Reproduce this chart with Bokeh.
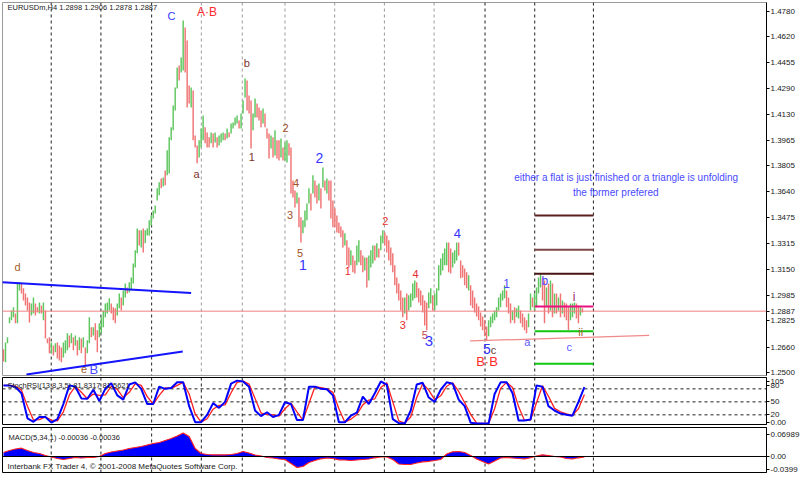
from bokeh.plotting import figure
from bokeh.layouts import column
from bokeh.models import (Range1d, FixedTicker, Span, Label, ColumnDataSource,
                          NumeralTickFormatter, CustomJSTickFormatter)
from bokeh.core.properties import value
from bokeh.embed import file_html
from bokeh.resources import INLINE

FONT = "Liberation Sans"

# ---------------- data ----------------
chart_title = "EURUSDm,H4  1.2898 1.2906 1.2878 1.2887"
bid_price = 1.2887

bar_high = [
    1.2646, 1.2690, 1.2722, 1.2848, 1.2892, 1.2911, 1.2873, 1.3069, 1.3069, 1.3062,
    1.3031, 1.2999, 1.2974, 1.2942, 1.2936, 1.2974, 1.2936, 1.2911, 1.2942, 1.2923,
    1.2942, 1.2892, 1.2715, 1.2722, 1.2690, 1.2671, 1.2684, 1.2690, 1.2671, 1.2658,
    1.2690, 1.2703, 1.2747, 1.2734, 1.2747, 1.2722, 1.2734, 1.2703, 1.2722, 1.2715,
    1.2722, 1.2658, 1.2703, 1.2848, 1.2785, 1.2785, 1.2810, 1.2766, 1.2810, 1.2848,
    1.2892, 1.2936, 1.2942, 1.2968, 1.2936, 1.2911, 1.2905, 1.2936, 1.2999, 1.2974,
    1.3018, 1.3062, 1.3037, 1.3069, 1.3100, 1.3188, 1.3271, 1.3409, 1.3397, 1.3397,
    1.3409, 1.3397, 1.3409, 1.3460, 1.3491, 1.3523, 1.3554, 1.3662, 1.3700, 1.3725,
    1.3731, 1.3775, 1.3902, 1.3984, 1.4047, 1.4185, 1.4299, 1.4425, 1.4437, 1.4488,
    1.4722, 1.4678, 1.4595, 1.4311, 1.4299, 1.4280, 1.3996, 1.3933, 1.3965, 1.4040,
    1.4122, 1.4047, 1.4015, 1.3984, 1.4015, 1.4009, 1.4015, 1.3984, 1.3996, 1.4009,
    1.4015, 1.4009, 1.4040, 1.4015, 1.4072, 1.4078, 1.4110, 1.4122, 1.4091, 1.4135,
    1.4217, 1.4355, 1.4343, 1.4248, 1.4217, 1.4135, 1.4229, 1.4198, 1.4173, 1.4154,
    1.4166, 1.4135, 1.4040, 1.4009, 1.3996, 1.3984, 1.4028, 1.3965, 1.3965, 1.3977,
    1.3920, 1.3952, 1.3965, 1.3946, 1.3920, 1.3712, 1.3649, 1.3636, 1.3605, 1.3479,
    1.3460, 1.3523, 1.3567, 1.3662, 1.3630, 1.3744, 1.3712, 1.3681, 1.3693, 1.3662,
    1.3794, 1.3712, 1.3725, 1.3712, 1.3712, 1.3586, 1.3535, 1.3491, 1.3447, 1.3422,
    1.3397, 1.3378, 1.3334, 1.3289, 1.3271, 1.3239, 1.3207, 1.3302, 1.3334, 1.3271,
    1.3239, 1.3226, 1.3226, 1.3239, 1.3271, 1.3302, 1.3302, 1.3315, 1.3283, 1.3365,
    1.3397, 1.3384, 1.3365, 1.3334, 1.3289, 1.3252, 1.3176, 1.3100, 1.3062, 1.3018,
    1.2974, 1.2974, 1.2999, 1.2987, 1.2999, 1.3062, 1.3081, 1.3069, 1.3031, 1.3018,
    1.2987, 1.2955, 1.2942, 1.3005, 1.3031, 1.2987, 1.2999, 1.3031, 1.3176, 1.3220,
    1.3252, 1.3283, 1.3321, 1.3321, 1.3283, 1.3258, 1.3271, 1.3321, 1.3321, 1.3207,
    1.3176, 1.3157, 1.3132, 1.3113, 1.3050, 1.3018, 1.2974, 1.2936, 1.2917, 1.2879,
    1.2854, 1.2829, 1.2791, 1.2829, 1.2854, 1.2873, 1.2892, 1.2911, 1.2974, 1.2999,
    1.3018, 1.3050, 1.3018, 1.2974, 1.2936, 1.2892, 1.2911, 1.2905, 1.2923, 1.2892,
    1.2873, 1.2848, 1.2829, 1.2873, 1.2999, 1.2974, 1.2999, 1.3037, 1.3100, 1.3125,
    1.3100, 1.3081, 1.3037, 1.3062, 1.3081, 1.3062, 1.2999, 1.2999, 1.2974, 1.2999,
    1.2955, 1.2942, 1.2936, 1.2911, 1.2936, 1.2936, 1.2942, 1.2936, 1.2923, 1.2911,
    1.2906]

bar_low = [
    1.2570, 1.2564, 1.2684, 1.2810, 1.2829, 1.2848, 1.2810, 1.2810, 1.3018, 1.2999,
    1.2955, 1.2923, 1.2892, 1.2816, 1.2860, 1.2873, 1.2860, 1.2879, 1.2873, 1.2873,
    1.2829, 1.2715, 1.2684, 1.2621, 1.2621, 1.2608, 1.2627, 1.2589, 1.2576, 1.2564,
    1.2595, 1.2621, 1.2640, 1.2658, 1.2684, 1.2640, 1.2671, 1.2608, 1.2640, 1.2621,
    1.2658, 1.2545, 1.2621, 1.2684, 1.2722, 1.2734, 1.2703, 1.2627, 1.2722, 1.2747,
    1.2785, 1.2848, 1.2873, 1.2892, 1.2873, 1.2829, 1.2810, 1.2860, 1.2905, 1.2892,
    1.2923, 1.2974, 1.2999, 1.3005, 1.3018, 1.3062, 1.3163, 1.3252, 1.3302, 1.3289,
    1.3258, 1.3315, 1.3365, 1.3365, 1.3428, 1.3472, 1.3504, 1.3586, 1.3618, 1.3662,
    1.3674, 1.3681, 1.3744, 1.3756, 1.3965, 1.4028, 1.4154, 1.4292, 1.4343, 1.4393,
    1.4406, 1.4393, 1.4173, 1.4198, 1.4173, 1.3965, 1.3920, 1.3820, 1.3857, 1.3920,
    1.3965, 1.3946, 1.3920, 1.3920, 1.3946, 1.3920, 1.3952, 1.3920, 1.3933, 1.3952,
    1.3965, 1.3965, 1.3977, 1.3984, 1.4009, 1.4040, 1.4059, 1.4072, 1.4040, 1.4040,
    1.4135, 1.4235, 1.4154, 1.4135, 1.3914, 1.4028, 1.4110, 1.4110, 1.4091, 1.4047,
    1.4072, 1.4047, 1.3977, 1.3851, 1.3914, 1.3857, 1.3870, 1.3851, 1.3838, 1.3857,
    1.3838, 1.3838, 1.3826, 1.3870, 1.3630, 1.3605, 1.3542, 1.3567, 1.3416, 1.3321,
    1.3378, 1.3416, 1.3460, 1.3567, 1.3523, 1.3630, 1.3605, 1.3567, 1.3586, 1.3535,
    1.3668, 1.3649, 1.3630, 1.3586, 1.3472, 1.3416, 1.3416, 1.3384, 1.3378, 1.3353,
    1.3289, 1.3302, 1.3176, 1.3163, 1.3176, 1.3132, 1.3125, 1.3176, 1.3195, 1.3176,
    1.3132, 1.3144, 1.3037, 1.3081, 1.3163, 1.3188, 1.3207, 1.3226, 1.3226, 1.3271,
    1.3315, 1.3302, 1.3258, 1.3207, 1.3176, 1.3132, 1.3050, 1.2999, 1.2955, 1.2892,
    1.2848, 1.2873, 1.2829, 1.2892, 1.2911, 1.2955, 1.2968, 1.2974, 1.2942, 1.2923,
    1.2879, 1.2797, 1.2766, 1.2905, 1.2936, 1.2892, 1.2892, 1.2923, 1.3018, 1.3113,
    1.3144, 1.3176, 1.3176, 1.3132, 1.3125, 1.3163, 1.3188, 1.3207, 1.3239, 1.3094,
    1.3100, 1.3050, 1.3031, 1.3018, 1.2923, 1.2905, 1.2879, 1.2854, 1.2829, 1.2791,
    1.2766, 1.2728, 1.2703, 1.2728, 1.2785, 1.2810, 1.2829, 1.2848, 1.2892, 1.2911,
    1.2955, 1.2968, 1.2911, 1.2873, 1.2810, 1.2829, 1.2810, 1.2848, 1.2841, 1.2810,
    1.2785, 1.2766, 1.2747, 1.2785, 1.2892, 1.2911, 1.2892, 1.2911, 1.2999, 1.3037,
    1.2955, 1.2810, 1.2911, 1.2873, 1.2892, 1.2848, 1.2873, 1.2873, 1.2892, 1.2848,
    1.2873, 1.2848, 1.2829, 1.2766, 1.2829, 1.2848, 1.2873, 1.2841, 1.2810, 1.2860,
    1.2878]

# U = bull bar (close above open), D = bear bar
bar_dir = ("DUUUUUDUUD" "DDDDUUDDUD" "UDDDUDUDDD" "UUUDUDUDUD" "UDUUDUDDUU"
           "UUUUDDDUUD" "UUDUUUUUDU" "DUUUUUUUUD" "UDUUUUUUDU" "UDDDUDDDUU"
           "UDDDUDUDUU" "UDUDUUUUDU" "UUDDDUUDDD" "UDDDUDUDDU" "DUUDDDDUDD"
           "UUUUDUDDUD" "UDUDDDDDDD" "DUDDUDDUUD" "DUDUUUDUDU" "UDDDDDDDDD"
           "DUDUUUUDDD" "DDDUUDUUUU" "UUUDDUUUDD" "DDDUDDDDDD" "DDDUUUUUUU"
           "UUDDDUDUUD" "DDDUUDUUUU" "DDUDUDUDUD" "UDDDUUUDDU" "D")

week_separators = [23.9, 48.8, 74.2, 99.1, 119.6, 141.0, 165.9, 190.8, 215.7, 241.2, 266.1, 295.5]
separator_dark = [1, 1, 1, 0, 0, 0, 0, 0, 0, 1, 1, 1]

date_bars = [0, 24.4, 50.3, 76.2, 102.1, 128.1, 154.0, 179.4, 205.8, 231.2, 256.6, 282.6]
date_labels = ["24 Nov 2008", "1 Dec 04:00", "8 Dec 08:00", "15 Dec 12:00", "22 Dec 16:00",
               "30 Dec 16:00", "7 Jan 16:00", "14 Jan 20:00", "22 Jan 00:00", "29 Jan 04:00",
               "5 Feb 08:00", "12 Feb 12:00"]

price_ticks = [1.4780, 1.4620, 1.4455, 1.4290, 1.4130, 1.3965, 1.3805, 1.3640, 1.3475,
               1.3315, 1.3150, 1.2985, 1.2887, 1.2825, 1.2660, 1.2500]

triangle_upper_bars = [-0.65, 94.0]
triangle_upper_prices = [1.3070, 1.3001]
triangle_lower_bars = [11.5, 89.8]
triangle_lower_prices = [1.2488, 1.2633]
base_line_bars = [233.7, 323.4]
base_line_prices = [1.2699, 1.2734]

level_prices = [1.3491, 1.3274, 1.3123, 1.2917, 1.2761, 1.2555]
level_bars = [266.1, 295.5]

wave_text = ["C", "A\u00b7B", "b", "a", "1", "2", "4", "3", "5", "1", "2", "1", "2", "4", "3",
             "5", "3", "4", "5", "c", "B\u00b7B", "1", "a", "b", "i", "ii", "c", "d", "e", "B"]
wave_bar = [84.1, 101.9, 121.9, 96.7, 124.4, 141.3, 146.5, 143.5, 148.5, 150.0, 158.2, 172.5,
            191.2, 206.4, 200.0, 211.1, 213.1, 227.4, 242.2, 245.4, 242.2, 252.0, 262.4, 271.2,
            285.8, 289.1, 283.4, 7.0, 40.4, 45.3]
wave_price = [1.4748, 1.4778, 1.4452, 1.3750, 1.3859, 1.4040, 1.3693, 1.3491, 1.3257, 1.3178,
              1.3852, 1.3138, 1.3459, 1.3119, 1.2801, 1.2734, 1.2698, 1.3375, 1.2648, 1.2643,
              1.2571, 1.3060, 1.2691, 1.3076, 1.2975, 1.2757, 1.2664, 1.3166, 1.2522, 1.2522]

note_text = ["either a flat is just finished or a triangle is unfolding", "the former prefered"]
note_bar = [311.9, 306.7]
note_price = [1.3729, 1.3638]

stoch_title = "StochRSI(13,8,3,5) 81.8317 81.5621"
stoch_step = 3
stoch_main = [88, 88, 84, 70, 12, 4, 15, 15, 2, 10,
              45, 88, 85, 58, 57, 78, 52, 80, 93, 65,
              55, 90, 95, 80, 45, 45, 85, 80, 82, 95,
              95, 40, 3, 3, 20, 47, 36, 50, 92, 99,
              97, 85, 30, 17, 26, 15, 20, 49, 45, 8,
              8, 85, 85, 80, 79, 65, 3, 3, 18, 25,
              62, 45, 70, 97, 90, 10, 1, 0, 30, 90,
              94, 60, 50, 78, 95, 92, 55, 40, 2, 0,
              0, 0, 68, 95, 95, 70, 7, 7, 9, 88,
              85, 40, 30, 23, 20, 18, 50, 84]
stoch_signal = [88, 88, 86, 77, 40, 8, 9, 15, 8, 6,
                27, 66, 86, 72, 57, 68, 65, 66, 86, 79,
                60, 72, 92, 88, 62, 45, 65, 82, 81, 88,
                95, 68, 22, 3, 11, 33, 42, 43, 71, 95,
                98, 91, 58, 24, 21, 20, 17, 34, 47, 27,
                8, 46, 85, 83, 80, 72, 34, 3, 10, 21,
                43, 54, 57, 83, 94, 50, 6, 1, 15, 60,
                92, 77, 55, 64, 86, 94, 74, 48, 21, 1,
                0, 0, 34, 81, 95, 83, 39, 7, 8, 48,
                87, 63, 35, 27, 22, 19, 34, 67]
stoch_levels = [20, 50, 80]
# where MetaTrader prints the scale labels (the top two are nudged apart)
stoch_label_at = [97, 88, 50, 20, 2]
stoch_tick_labels = ["105", "80", "50", "20", "0.00"]

macd_title = "MACD(5,34,1) -0.00036 -0.00036"
macd_step = 3
macd_values = [0.0127, 0.0191, 0.0239, 0.0264, 0.0191, 0.0127, 0.0096, 0.0032, -0.0016, -0.0064,
               -0.0096, -0.0064, -0.0032, -0.0048, -0.0032, -0.0032, 0.0000, 0.0096, 0.0143, 0.0175,
               0.0207, 0.0255, 0.0287, 0.0318, 0.0366, 0.0414, 0.0446, 0.0510, 0.0573, 0.0653,
               0.0748, 0.0637, 0.0255, 0.0096, 0.0064, 0.0054, 0.0054, 0.0054, 0.0064, 0.0096,
               0.0159, 0.0111, 0.0048, 0.0016, -0.0032, -0.0048, -0.0080, -0.0096, -0.0223, -0.0350,
               -0.0318, -0.0191, -0.0127, -0.0073, -0.0048, -0.0064, -0.0105, -0.0111, -0.0127, -0.0111,
               -0.0096, -0.0080, -0.0041, -0.0016, -0.0016, -0.0096, -0.0239, -0.0255, -0.0255, -0.0207,
               -0.0169, -0.0153, -0.0127, -0.0096, 0.0080, 0.0150, 0.0159, 0.0127, 0.0032, -0.0080,
               -0.0159, -0.0239, -0.0143, -0.0048, -0.0032, -0.0048, -0.0064, -0.0073, -0.0041, 0.0016,
               0.0054, 0.0032, 0.0000, -0.0016, -0.0064, -0.0073, -0.0041, -0.0016]
macd_tick_values = [0.06989, 0.0, -0.0399]
macd_tick_labels = ["0.06989", "0.00", "-0.0399"]
copyright_text = "Interbank FX Trader 4, \u00a9 2001-2008 MetaQuotes Software Corp."

# ---------------- styles ----------------
UP_COLOR = "#5ec65e"
DOWN_COLOR = "#f07474"
wave_colors = ["#3535ff", "#ff2a2a", "#7a3528", "#7a3528", "#7a3528", "#a0502a", "#a0502a",
               "#a0502a", "#a0502a", "#3535ff", "#3535ff", "#e83030", "#e83030", "#e83030",
               "#e83030", "#c04848", "#3535ff", "#3535ff", "#3535ff", "#6b3b2b", "#ff2a2a",
               "#4a4aff", "#5a5aff", "#4a4aff", "#9a2060", "#a06030", "#5a5aff", "#a0602a",
               "#a0602a", "#4a4aff"]
wave_sizes = ["11px", "12px", "11px", "11px", "11px", "11px", "11px", "11px", "11px", "14px",
              "14px", "11px", "11px", "11px", "11px", "11px", "15px", "13px", "14px", "11px",
              "13px", "12px", "11px", "12px", "12px", "11px", "11px", "11px", "11px", "13px"]
level_colors = ["#5a1e1e", "#7e4646", "#4a1414", "#e8117f", "#10c810", "#10c810"]

FW = 764
H_MAIN, H_STOCH, H_MACD = 373, 47, 45
X_END = 382.2
x_range = Range1d(-0.5, X_END)


def make_pane(frame_h, y0, y1, border_top, border_bottom, outline):
    p = figure(frame_width=FW, frame_height=frame_h, x_range=x_range,
               y_range=Range1d(y0, y1), output_backend="svg",
               toolbar_location=None, tools="", x_axis_location=None,
               y_axis_location="right", min_border_left=2, min_border_right=34,
               min_border_top=border_top, min_border_bottom=border_bottom)
    p.background_fill_color = "white"
    p.border_fill_color = "white"
    p.outline_line_color = outline
    p.outline_line_width = 1
    p.xgrid.visible = False
    p.ygrid.visible = False
    ax = p.yaxis[0]
    ax.axis_line_color = "black"
    ax.major_tick_line_color = "black"
    ax.major_tick_out = 3
    ax.major_tick_in = 0
    ax.minor_tick_line_color = None
    ax.major_label_standoff = 1
    ax.major_label_text_font = FONT
    ax.major_label_text_font_size = "8px"
    ax.major_label_text_color = "#202020"
    return p


def label_formatter(vals, labs):
    return CustomJSTickFormatter(args=dict(vals=vals, labs=labs), code="""
let best = 0, d = 1e9;
for (let i = 0; i < vals.length; i++) {
  const e = Math.abs(vals[i] - tick);
  if (e < d) { d = e; best = i; }
}
return labs[best];
""")


def add_separators(p, colors):
    for s, c in zip(week_separators, colors):
        p.add_layout(Span(location=s, dimension="height", line_color=c,
                          line_dash="3 3", line_width=1, level="underlay"))


def screen_label(p, x, y, text, size="7.5px", color="#202020"):
    p.add_layout(Label(x=x, y=y, x_units="screen", y_units="screen", text=text,
                       text_font=FONT, text_font_size=size, text_color=color,
                       text_baseline="middle", text_align="left"))


# ---------------- main price pane ----------------
pm = make_pane(H_MAIN, 1.2481, 1.4835, 2, 1, "#9a9a9a")
pm.yaxis[0].ticker = FixedTicker(ticks=price_ticks)
pm.yaxis[0].formatter = NumeralTickFormatter(format="0.0000")
add_separators(pm, ["#202020" if d else "#9a9a9a" for d in separator_dark])

n = min(len(bar_high), len(bar_low), len(bar_dir))
bar_src = ColumnDataSource(dict(
    x=list(range(n)), hi=bar_high[:n], lo=bar_low[:n],
    color=[UP_COLOR if c == "U" else DOWN_COLOR for c in bar_dir[:n]]))
pm.segment(x0="x", y0="lo", x1="x", y1="hi", line_color="color", line_width=1.45, source=bar_src)

pm.add_layout(Span(location=bid_price, dimension="width", line_color="#f08080", line_width=1))

pm.line(triangle_upper_bars, triangle_upper_prices, line_color="#1414ff", line_width=2)
pm.line(triangle_lower_bars, triangle_lower_prices, line_color="#1414ff", line_width=2)
pm.line(base_line_bars, base_line_prices, line_color="#f08a8a", line_width=1.2)

nl = len(level_prices)
pm.segment(x0=[level_bars[0]] * nl, x1=[level_bars[1]] * nl, y0=level_prices, y1=level_prices,
           line_color=level_colors[:nl], line_width=2)

wave_src = ColumnDataSource(dict(x=wave_bar, y=wave_price, text=wave_text,
                                 color=wave_colors, size=wave_sizes))
pm.text(x="x", y="y", text="text", text_color="color", text_font_size="size",
        text_font=value(FONT), text_align="center", text_baseline="middle", source=wave_src)

pm.text(x=note_bar, y=note_price, text=note_text, text_color="#4a4aff", text_font_size="10px",
        text_font=value(FONT), text_align="center", text_baseline="middle")

screen_label(pm, 5, H_MAIN - 5, chart_title)

# ---------------- StochRSI pane ----------------
ps = make_pane(H_STOCH, -2.3, 106.2, 1, 2, "black")
ps.yaxis[0].ticker = FixedTicker(ticks=stoch_label_at)
ps.yaxis[0].formatter = label_formatter(stoch_label_at, stoch_tick_labels)
add_separators(ps, ["#202020"] * len(week_separators))
for lv in stoch_levels:
    ps.add_layout(Span(location=lv, dimension="width", line_color="#202020",
                       line_dash="3 3", line_width=1, level="underlay"))
sx = [stoch_step * i for i in range(len(stoch_main))]
sx2 = [stoch_step * i for i in range(len(stoch_signal))]
ps.line(sx2, stoch_signal, line_color="#ff2020", line_width=1.3)
ps.line(sx, stoch_main, line_color="#0000ff", line_width=2)
screen_label(ps, 5, H_STOCH - 8, stoch_title)

# ---------------- MACD pane ----------------
pd = make_pane(H_MACD, -0.0510, 0.0924, 1, 13, "black")
pd.yaxis[0].ticker = FixedTicker(ticks=macd_tick_values)
pd.yaxis[0].formatter = label_formatter(macd_tick_values, macd_tick_labels)
add_separators(pd, ["#202020"] * len(week_separators))
mx = [macd_step * i for i in range(len(macd_values))]
pd.varea(x=mx, y1=0, y2=macd_values, fill_color="#0000ff")
pd.line(mx, macd_values, line_color="#ff2020", line_width=1.2)
pd.add_layout(Span(location=0, dimension="width", line_color="black", line_width=1))
screen_label(pd, 6, H_MACD - 9.5, macd_title)
screen_label(pd, 5, 6, copyright_text, size="8px")
for b, t in zip(date_bars, date_labels):
    pd.add_layout(Label(x=b, y=-7, x_units="data", y_units="screen", text=t,
                        text_font=FONT, text_font_size="7.5px", text_color="#202020",
                        text_baseline="middle", text_align="left"))

layout = column(pm, ps, pd)
open("out.html", "w").write(file_html(layout, INLINE))
